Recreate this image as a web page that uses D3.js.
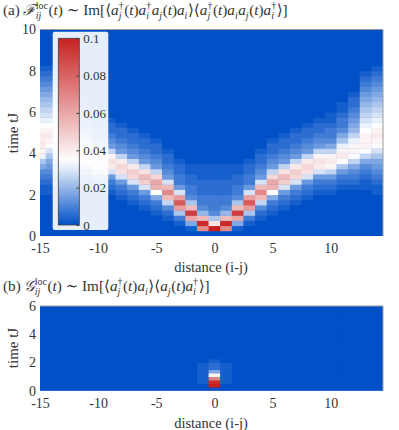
<!DOCTYPE html>
<html>
<head>
<script src="https://d3js.org/d3.v7.min.js"></script>
<style>
body{margin:0;background:#fff}
</style>
</head>
<body>
<svg id="fig" width="399" height="430"></svg>
<script>
// distances i-j (cell centres) and tick values
const distances=[-15,-14,-13,-12,-11,-10,-9,-8,-7,-6,-5,-4,-3,-2,-1,0,1,2,3,4,5,6,7,8,9,10,11,12,13,14];
const xTicks=[-15,-10,-5,0,5,10];
const tTicksA=[0,2,4,6,8,10];
const tTicksB=[0,2,4,6];
const cbTicks=[0,0.02,0.04,0.06,0.08,0.1];
const dt=0.25;
// each char = value level, "0".."z" -> 0..0.1 ; string index = time step k (t from k*dt to (k+1)*dt)
const levels="0123456789abcdefghijklmnopqrstuvwxyz";
const fColumns=[
  "000000001123468bdeeedcba987654321",      // -15
  "0000000011234568acdedcba987654321",      // -14
  "0000000001123469cdddcba987654321",       // -13
  "000000000123469cddb976543221",           // -12
  "00000000012358cedb86433211",             // -11
  "0000000012359ded96433211",               // -10
  "000000001235aefd9543221",                // -9
  "00000001235afge9543221",                 // -8
  "0000001235aghe9543221",                  // -7
  "000001235ahjf9543221",                   // -6
  "00001236cklg9543221",                    // -5
  "0001249joja543221",                      // -4
  "00138mtma533221",                        // -3
  "016lwj84332211",                         // -2
  "0oyj7433222111",                         // -1
  "0zf84333222111",                         // 0
  "0oyj7433222111",                         // 1
  "016lwj84332211",                         // 2
  "00138mtma533221",                        // 3
  "0001249joja543221",                      // 4
  "00001236cklg9543221",                    // 5
  "000001235ahjf9543221",                   // 6
  "0000001235aghe9543221",                  // 7
  "00000001235afge9543221",                 // 8
  "000000001235aefd9543221",                // 9
  "0000000012359ded96433211",               // 10
  "00000000012358cedb86433211",             // 11
  "000000000123469cddb976543221",           // 12
  "0000000001123469cdddcba987654321",       // 13
  "0000000011234568acdedcba987654321"       // 14
];
const gColumns=[
  "0","0","0","0","0","0","0","0","0","0","0","0","0","0",
  "00111111",        // -1
  "0zypd6221",       // 0
  "00111111",        // 1
  "0","0","0","0","0","0","0","0","0","0","0","0","0"
];

const FONT="Liberation Serif, Times New Roman, Times, DejaVu Serif, serif";
const INK="#333";
const svg=d3.select("#fig").attr("font-family",FONT);
const x=d3.scaleLinear().domain([-15,14.5]).range([40,383]);
const yA=d3.scaleLinear().domain([0,10]).range([236,29.5]);
const yB=d3.scaleLinear().domain([0,6]).range([390.7,306]);
const color=d3.scaleLinear().domain([0,0.034,0.1])
    .range(["rgb(0,80,200)","#ffffff","rgb(200,32,32)"]).clamp(true);
const val=c=>levels.indexOf(c)/35*0.1;

function heat(cols, y, tMax, id){
    let x0=x.range()[0], x1=x.range()[1], top=y(tMax), bot=y(0);
    svg.append("clipPath").attr("id",id).append("rect")
        .attr("x",x0).attr("y",top).attr("width",x1-x0).attr("height",bot-top);
    let g=svg.append("g").attr("clip-path",`url(#${id})`);
    g.append("rect").attr("x",x0).attr("y",top).attr("width",x1-x0).attr("height",bot-top)
        .attr("fill",color(0));
    let cells=[];
    cols.forEach((s,i)=>{
        for(let k=0;k<Math.round(tMax/dt);k++){
            cells.push({d:distances[i],k:k,v:val(s[k]||"0")});
        }
    });
    g.selectAll("rect.cell").data(cells).join("rect")
        .attr("class","cell")
        .attr("x",d=>x(d.d-0.5))
        .attr("width",x(1)-x(0)+0.4)
        .attr("y",d=>y((d.k+1)*dt))
        .attr("height",y(0)-y(dt)+0.4)
        .attr("fill",d=>color(d.v));
    // top/right frame
    svg.append("path")
        .attr("d",`M${x0},${top}H${x1}V${bot}`)
        .attr("fill","none").attr("stroke","#9a9a9a").attr("stroke-width",1);
}

function axes(y, ticks, lab2Y, labTimeY){
    let bot=y.range()[0];
    let xa=svg.append("g").attr("transform",`translate(0,${bot})`)
        .call(d3.axisBottom(x).tickValues(xTicks).tickSize(0).tickPadding(7).tickFormat(d=>String(d)));
    xa.select(".domain").remove();
    xa.attr("font-family",FONT).attr("font-size",14);
    xa.selectAll("text").attr("fill",INK);
    let ya=svg.append("g").attr("transform",`translate(40,0)`)
        .call(d3.axisLeft(y).tickValues(ticks).tickSize(0).tickPadding(4).tickFormat(d=>String(d)));
    ya.select(".domain").remove();
    ya.attr("font-family",FONT).attr("font-size",14);
    ya.selectAll("text").attr("fill",INK);
    svg.append("text").attr("x",211).attr("y",lab2Y).attr("text-anchor","middle")
        .attr("font-size",14.5).attr("fill",INK).text("distance (i-j)");
    svg.append("text").attr("transform",`translate(18,${labTimeY}) rotate(-90)`)
        .attr("text-anchor","middle").attr("font-size",15).attr("fill",INK).text("time tJ");
}

function mathLine(x0,y0,tokens,fs){
    let g=svg.append("g").attr("fill",INK);
    let cx=x0;
    tokens.forEach(tk=>{
        cx+=tk.gap||0;
        if(tk.t){
            let el=g.append("text").attr("x",cx).attr("y",y0).attr("font-size",fs)
                .attr("font-style",tk.i?"italic":null).text(tk.t);
            cx+=el.node().getComputedTextLength();
        }
        let w=0;
        if(tk.sub){
            let el=g.append("text").attr("x",cx).attr("y",y0+4).attr("font-size",fs*0.65)
                .attr("font-style","italic").text(tk.sub);
            w=Math.max(w,el.node().getComputedTextLength());
        }
        if(tk.sup){
            let el=g.append("text").attr("x",cx).attr("y",y0-6.5).attr("font-size",fs*0.65)
                .text(tk.sup);
            w=Math.max(w,el.node().getComputedTextLength());
        }
        cx+=w+(tk.sub||tk.sup?0.6:0);
    });
}

heat(fColumns,yA,10,"clipA");
axes(yA,tTicksA,272,133);
heat(gColumns,yB,6,"clipB");
axes(yB,tTicksB,428,348);

// colorbar inside panel (a)
svg.append("rect").attr("x",52.7).attr("y",31.7).attr("width",55.6).attr("height",198.3)
    .attr("rx",2).attr("fill","#fff").attr("fill-opacity",0.9);
const cbY=d3.scaleLinear().domain([0,0.1]).range([225,38.3]);
const grad=svg.append("defs").append("linearGradient").attr("id","cbGrad")
    .attr("x1",0).attr("y1",1).attr("x2",0).attr("y2",0);
d3.range(0,1.0001,0.05).forEach(f=>{
    grad.append("stop").attr("offset",f).attr("stop-color",color(f*0.1));
});
svg.append("rect").attr("x",58.3).attr("y",38.3).attr("width",21).attr("height",225-38.3)
    .attr("fill","url(#cbGrad)").attr("stroke","#404040").attr("stroke-width",0.8);
const cb=svg.append("g").attr("transform","translate(79.3,0)")
    .call(d3.axisRight(cbY).tickValues(cbTicks).tickSize(-3).tickPadding(4).tickFormat(d3.format("~g")));
cb.select(".domain").remove();
cb.selectAll("line").attr("stroke","#404040");
cb.attr("font-family",FONT).attr("font-size",13);
cb.selectAll("text").attr("fill",INK);

// titles
const J="j", I="i";
mathLine(3,15,[
    {t:"(a) "},{t:"ℱ",i:true,sub:"ij",sup:"loc",gap:3},{t:"("},{t:"t",i:true},{t:") ∼ Im[⟨"},
    {t:"a",i:true,sub:J,sup:"†"},{t:"("},{t:"t",i:true},{t:")"},
    {t:"a",i:true,sub:I,sup:"†"},{t:"a",i:true,sub:J},{t:"("},{t:"t",i:true},{t:")"},
    {t:"a",i:true,sub:I},{t:"⟩⟨"},
    {t:"a",i:true,sub:J,sup:"†"},{t:"("},{t:"t",i:true},{t:")"},
    {t:"a",i:true,sub:I},{t:"a",i:true,sub:J},{t:"("},{t:"t",i:true},{t:")"},
    {t:"a",i:true,sub:I,sup:"†"},{t:"⟩]"}
],15.2);
mathLine(3,291,[
    {t:"(b) "},{t:"𝒢",i:true,sub:"ij",sup:"loc",gap:3},{t:"("},{t:"t",i:true},{t:") ∼ Im[⟨"},
    {t:"a",i:true,sub:J,sup:"†"},{t:"("},{t:"t",i:true},{t:")"},
    {t:"a",i:true,sub:I},{t:"⟩⟨"},
    {t:"a",i:true,sub:J},{t:"("},{t:"t",i:true},{t:")"},
    {t:"a",i:true,sub:I,sup:"†"},{t:"⟩]"}
],15.2);
</script>
</body>
</html>
